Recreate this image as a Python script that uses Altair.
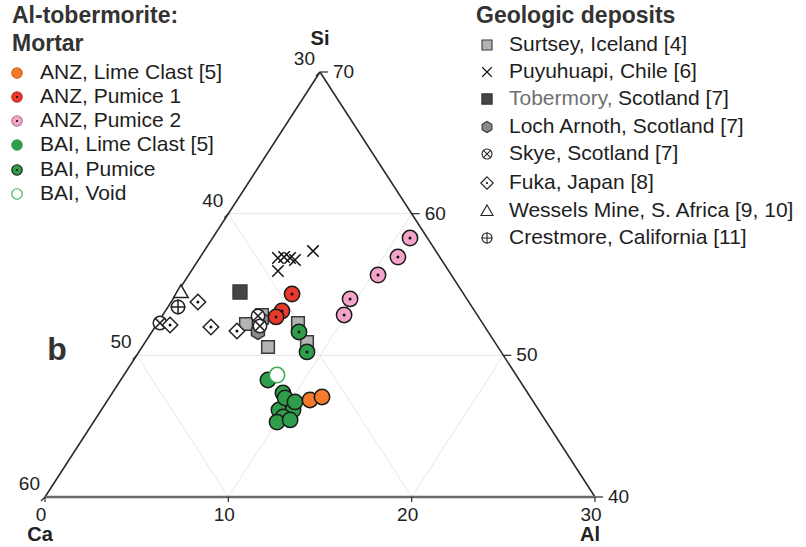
import math
import altair as alt
import pandas as pd

# ---------------- values (Al %, Si %; Ca = 100 - Al - Si) ----------------
anz_lime_al = [11.03, 11.58]
anz_lime_si = [46.85, 47.06]
anz_pum1_al = [6.31, 6.36, 6.25]
anz_pum1_si = [54.33, 53.13, 52.71]
anz_pum2_al = [10.77, 10.78, 10.33, 9.65, 9.89]
anz_pum2_si = [58.28, 56.94, 55.67, 53.98, 52.85]
bai_lime_al = [8.03, 9.31, 9.95, 9.69, 10.46, 10.16, 10.01, 10.65, 9.60, 10.28]
bai_lime_si = [48.26, 47.34, 46.49, 46.14, 46.14, 45.65, 45.29, 45.44, 46.99, 46.71]
bai_pum_al = [8.03, 9.17]
bai_pum_si = [51.65, 50.24]
bai_void_al = [8.35]
bai_void_si = [48.61]

surtsey_al = [4.86, 6.87, 7.66, 8.82, 5.41]
surtsey_si = [52.21, 50.59, 52.28, 50.94, 52.85]
puyu_al = [4.27, 4.57, 4.93, 5.27, 5.94, 4.73]
puyu_si = [56.87, 56.94, 56.87, 56.73, 57.36, 55.95]
tober_al = [3.40]
tober_si = [54.47]
loch_al = [5.79, 5.59]
loch_si = [51.65, 52.49]
skye_al = [0.13, 5.23, 5.69]
skye_si = [52.28, 52.78, 52.07]
fuka_al = [1.46, 0.75, 3.05, 4.61]
fuka_si = [53.76, 52.14, 52.00, 51.72]
wessels_al = [0.18]
wessels_si = [54.47]
crest_al = [0.55]
crest_si = [53.41]

# axis tick values
ca_ticks = [30, 40, 50, 60]      # left edge (Al = 0)
si_ticks = [70, 60, 50, 40]      # right edge (Ca = 30)
al_ticks = [0, 10, 20, 30]       # bottom edge (Si = 40)

mortar_labels = ["ANZ, Lime Clast [5]", "ANZ, Pumice 1", "ANZ, Pumice 2",
                 "BAI, Lime Clast [5]", "BAI, Pumice", "BAI, Void"]
geo_labels = ["Surtsey, Iceland [4]", "Puyuhuapi, Chile [6]", "Tobermory, Scotland [7]",
              "Loch Arnoth, Scotland [7]", "Skye, Scotland [7]", "Fuka, Japan [8]",
              "Wessels Mine, S. Africa [9, 10]", "Crestmore, California [11]"]

# ---------------- geometry ----------------
W, H = 550, 425
OX, OY = 45, 72
SCX = alt.Scale(domain=[0, 30], nice=False, zero=False)
SCY = alt.Scale(domain=[0, 30], nice=False, zero=False)
FONT = "Liberation Sans"


def tern(al, si):
    return al + (si - 40.0) / 2.0, si - 40.0


def pix(xp, yp):
    return (xp - OX) / W * 30.0, (OY + H - yp) / H * 30.0


def X(f="x"):
    return alt.X(f"{f}:Q", scale=SCX, axis=None)


def Y(f="y"):
    return alt.Y(f"{f}:Q", scale=SCY, axis=None)


layers = []

# ---------------- grid ----------------
seg = []
for s in [50, 60]:
    seg.append((tern(0, s), tern(70 - s, s)))
for a in [10, 20]:
    seg.append((tern(a, 40), tern(a, 70 - a)))
for c in [40, 50]:
    seg.append((tern(60 - c, 40), tern(0, 100 - c)))
grid_df = pd.DataFrame([dict(x=p[0], y=p[1], x2=q[0], y2=q[1]) for p, q in seg])
layers.append(alt.Chart(grid_df).mark_rule(color="#e6e6e6", strokeWidth=1).encode(
    x=X(), y=Y(), x2="x2:Q", y2="y2:Q"))

# ---------------- edges ----------------
edges = pd.DataFrame([
    dict(x=tern(0, 40)[0], y=0, x2=tern(0, 70)[0], y2=30),
    dict(x=tern(30, 40)[0], y=0, x2=tern(0, 70)[0], y2=30),
])
layers.append(alt.Chart(edges).mark_rule(color="#2a2a2a", strokeWidth=1.6).encode(
    x=X(), y=Y(), x2="x2:Q", y2="y2:Q"))
bottom = pd.DataFrame([dict(x=0, y=0, x2=30, y2=0)])
layers.append(alt.Chart(bottom).mark_rule(color="#6a6a6a", strokeWidth=2.6).encode(
    x=X(), y=Y(), x2="x2:Q", y2="y2:Q"))

# ---------------- ticks ----------------
dxu = 30.0 / W
dyu = 30.0 / H
tk = []
for c in ca_ticks:
    x0, y0 = tern(0, 100 - c)
    tk.append(dict(x=x0, y=y0, x2=x0 - 4 * dxu, y2=y0 - 4 * dyu))
for s in si_ticks:
    x0, y0 = tern(70 - s, s)
    tk.append(dict(x=x0, y=y0, x2=x0 + 8 * dxu, y2=y0))
for a in al_ticks:
    x0, y0 = tern(a, 40)
    tk.append(dict(x=x0, y=y0, x2=x0, y2=y0 - 5 * dyu))
layers.append(alt.Chart(pd.DataFrame(tk)).mark_rule(color="#2a2a2a", strokeWidth=1.2).encode(
    x=X(), y=Y(), x2="x2:Q", y2="y2:Q"))

# tick labels
lab_left = pd.DataFrame([dict(x=tern(0, 100 - c)[0], y=tern(0, 100 - c)[1], t=str(c)) for c in ca_ticks])
layers.append(alt.Chart(lab_left).mark_text(font=FONT, fontSize=19, color="#222", align="right",
                                            baseline="bottom", dx=-5, dy=-3).encode(
    x=X(), y=Y(), text="t:N"))
lab_right = pd.DataFrame([dict(x=tern(70 - s, s)[0], y=tern(70 - s, s)[1], t=str(s)) for s in si_ticks])
layers.append(alt.Chart(lab_right).mark_text(font=FONT, fontSize=19, color="#222", align="left",
                                             baseline="middle", dx=13, dy=0).encode(
    x=X(), y=Y(), text="t:N"))
lab_bot = pd.DataFrame([dict(x=tern(a, 40)[0], y=0, t=str(a)) for a in al_ticks])
layers.append(alt.Chart(lab_bot).mark_text(font=FONT, fontSize=19, color="#222", align="center",
                                           baseline="top", dx=-4, dy=9).encode(
    x=X(), y=Y(), text="t:N"))

# vertex labels
vx = pd.DataFrame([dict(x=tern(0, 70)[0], y=30, t="Si")])
layers.append(alt.Chart(vx).mark_text(font=FONT, fontSize=20, fontWeight="bold", color="#222",
                                      baseline="middle", dy=-33).encode(x=X(), y=Y(), text="t:N"))
vb = pd.DataFrame([dict(x=tern(0, 40)[0], y=0, t="Ca"), dict(x=tern(30, 40)[0], y=0, t="Al")])
layers.append(alt.Chart(vb).mark_text(font=FONT, fontSize=20, fontWeight="bold", color="#222",
                                      baseline="middle", dx=-5, dy=38).encode(x=X(), y=Y(), text="t:N"))

# panel letter
bx, by = pix(57, 350)
layers.append(alt.Chart(pd.DataFrame([dict(x=bx, y=by, t="b")])).mark_text(
    font=FONT, fontSize=32, fontWeight="bold", color="#333", baseline="middle").encode(
    x=X(), y=Y(), text="t:N"))

# ---------------- symbols ----------------
XPATH = "M-1,-1L1,1M-1,1L1,-1"
HEX = "M0,-1L0.87,-0.5L0.87,0.5L0,1L-0.87,0.5L-0.87,-0.5Z"
DIA = "M0,-1L1,0L0,1L-1,0Z"
TRI = "M0,-1L1,0.75L-1,0.75Z"
INX = "M-0.68,-0.68L0.68,0.68M-0.68,0.68L0.68,-0.68"
PLUS = "M-1,0L1,0M0,-1L0,1"

LEFT_ROWS = [73, 97, 121, 145, 170, 194]
RIGHT_ROWS = [45, 72, 99, 127, 154, 183, 211, 238]

# name, al, si, shape, fill, stroke, filled, plot size, legend size, overlay
geo = [
    (geo_labels[0], surtsey_al, surtsey_si, "square", "#b4b4b4", "#3a3a3a", True, 160, 100, None),
    (geo_labels[1], puyu_al, puyu_si, XPATH, "none", "#111", False, 130, 90, None),
    (geo_labels[2], tober_al, tober_si, "square", "#454545", "#333", True, 190, 105, None),
    (geo_labels[3], loch_al, loch_si, HEX, "#8a8a8a", "#333", True, 220, 125, None),
    (geo_labels[4], skye_al, skye_si, "circle", "#ffffff", "#222", True, 180, 100, "x"),
    (geo_labels[5], fuka_al, fuka_si, DIA, "#ffffff", "#222", True, 240, 155, "dot"),
    (geo_labels[6], wessels_al, wessels_si, TRI, "#ffffff", "#222", True, 210, 145, None),
    (geo_labels[7], crest_al, crest_si, "circle", "#ffffff", "#222", True, 180, 100, "plus"),
]
mortar = [
    (mortar_labels[3], bai_lime_al, bai_lime_si, "circle", "#2f9e4b", "#1a1a1a", True, 235, 110, None),
    (mortar_labels[5], bai_void_al, bai_void_si, "circle", "#ffffff", "#3aac52", True, 235, 110, None),
    (mortar_labels[4], bai_pum_al, bai_pum_si, "circle", "#2f9e4b", "#1a1a1a", True, 235, 110, "dot"),
    (mortar_labels[0], anz_lime_al, anz_lime_si, "circle", "#f47a2c", "#1a1a1a", True, 235, 110, None),
    (mortar_labels[1], anz_pum1_al, anz_pum1_si, "circle", "#e8392b", "#1a1a1a", True, 235, 110, "dot"),
    (mortar_labels[2], anz_pum2_al, anz_pum2_si, "circle", "#f4a4c8", "#1a1a1a", True, 235, 110, "dot"),
]
leg_stroke = {mortar_labels[0]: "#d0641e", mortar_labels[2]: "#b07a92",
              mortar_labels[3]: "#2f9e4b", mortar_labels[1]: "#c02a1f"}


def legend_pos(name):
    if name in mortar_labels:
        return pix(17, LEFT_ROWS[mortar_labels.index(name)])
    return pix(487, RIGHT_ROWS[geo_labels.index(name)])


for (name, al, si, shape, fill, stroke, filled, psz, lsz, ov) in geo + mortar:
    rows = []
    for a, s in zip(al, si):
        x, y = tern(a, s)
        rows.append(dict(x=x, y=y, sz=psz, sw=1.5, st=stroke))
    lx, ly = legend_pos(name)
    rows.append(dict(x=lx, y=ly, sz=lsz, sw=1.1, st=leg_stroke.get(name, stroke)))
    df = pd.DataFrame(rows)
    if filled:
        mk = alt.Chart(df).mark_point(shape=shape, filled=True, fill=fill, opacity=1)
    else:
        mk = alt.Chart(df).mark_point(shape=shape, filled=False, opacity=1)
    layers.append(mk.encode(x=X(), y=Y(), size=alt.Size("sz:Q", scale=None),
                            stroke=alt.Stroke("st:N", scale=None),
                            strokeWidth=alt.StrokeWidth("sw:Q", scale=None)))
    if ov is not None:
        od = df.copy()
        if ov == "dot":
            od["osz"] = [9 if v == psz else 5 for v in od["sz"]]
            layers.append(alt.Chart(od).mark_point(shape="circle", filled=True, fill="#111",
                                                   opacity=1).encode(
                x=X(), y=Y(), size=alt.Size("osz:Q", scale=None)))
        else:
            od["osz"] = [4 * v / math.pi for v in od["sz"]]
            layers.append(alt.Chart(od).mark_point(shape=INX if ov == "x" else PLUS, filled=False,
                                                   stroke="#222", opacity=1).encode(
                x=X(), y=Y(), size=alt.Size("osz:Q", scale=None),
                strokeWidth=alt.StrokeWidth("sw:Q", scale=None)))

# ---------------- legend texts ----------------
titles = pd.DataFrame([
    dict(x=pix(12, 16)[0], y=pix(12, 16)[1], t="Al-tobermorite:"),
    dict(x=pix(12, 44)[0], y=pix(12, 44)[1], t="Mortar"),
    dict(x=pix(476, 16)[0], y=pix(476, 16)[1], t="Geologic deposits"),
])
layers.append(alt.Chart(titles).mark_text(font=FONT, fontSize=23, fontWeight="bold", color="#333",
                                          align="left", baseline="middle").encode(
    x=X(), y=Y(), text="t:N"))

lt = []
for i, n in enumerate(mortar_labels):
    x, y = pix(40, LEFT_ROWS[i])
    lt.append(dict(x=x, y=y, t=n))
for i, n in enumerate(geo_labels):
    if i == 2:
        continue
    x, y = pix(509, RIGHT_ROWS[i])
    lt.append(dict(x=x, y=y, t=n))
tob_name, tob_rest = geo_labels[2].split(", ", 1)
x, y = pix(618, RIGHT_ROWS[2])
lt.append(dict(x=x, y=y, t=tob_rest))
layers.append(alt.Chart(pd.DataFrame(lt)).mark_text(font=FONT, fontSize=21, color="#1e1e1e",
                                                    align="left", baseline="middle").encode(
    x=X(), y=Y(), text="t:N"))
x, y = pix(509, RIGHT_ROWS[2])
layers.append(alt.Chart(pd.DataFrame([dict(x=x, y=y, t=tob_name + ",")])).mark_text(
    font=FONT, fontSize=21, color="#707070", align="left", baseline="middle").encode(
    x=X(), y=Y(), text="t:N"))

chart = alt.layer(*layers).properties(
    width=W, height=H,
    padding={"left": OX, "top": OY, "right": 806 - OX - W, "bottom": 547 - OY - H},
    autosize="none", background="white",
).configure_view(stroke=None)

chart.save("out.html", embed_options={"renderer": "svg", "actions": False})
